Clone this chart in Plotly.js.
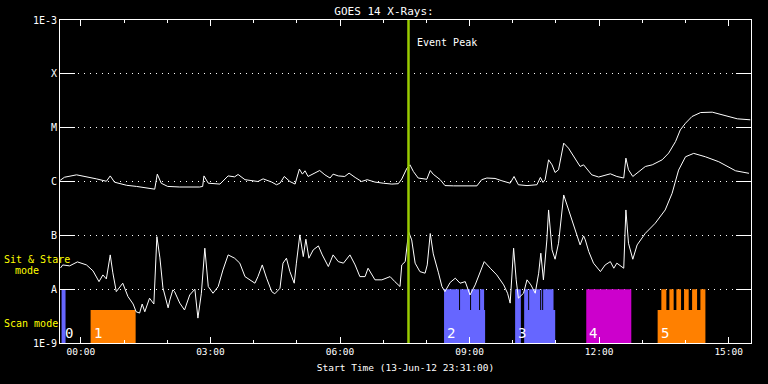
<!DOCTYPE html>
<html>
<head>
<meta charset="utf-8">
<script src="https://cdn.plot.ly/plotly-3.0.1.min.js"></script>
<style>html,body{margin:0;padding:0;background:#000;}#chart{width:768px;height:384px;}</style>
</head>
<body>
<div id="chart"></div>
<script>
// ---- Data (time in hours after 00:00 on 14-Jun-12; flux in W/m^2) ----
const longT = [-0.48,-0.38,-0.10,0.13,0.36,0.59,0.68,0.78,1.06,1.29,1.52,1.71,1.77,1.86,2.01,2.29,2.75,2.82,2.85,2.95,3.22,3.33,3.41,3.56,3.64,3.80,4.10,4.22,4.42,4.53,4.61,4.71,4.84,4.96,5.06,5.13,5.19,5.26,5.42,5.53,5.65,5.77,5.84,5.96,6.11,6.21,6.35,6.50,6.63,6.81,7.00,7.20,7.35,7.43,7.55,7.62,7.70,7.81,8.01,8.09,8.16,8.32,8.43,8.63,9.17,9.28,9.40,9.59,9.75,9.94,10.03,10.13,10.33,10.56,10.64,10.70,10.75,10.83,10.91,10.98,11.06,11.18,11.29,11.45,11.56,11.64,11.83,11.99,12.26,12.41,12.57,12.62,12.68,12.78,12.92,13.07,13.23,13.46,13.61,13.77,13.88,14.00,14.15,14.35,14.62,14.93,15.20,15.50];
const longF = [1.05e-6,1.20e-6,1.33e-6,1.24e-6,1.12e-6,1.01e-6,1.27e-6,0.97e-6,0.85e-6,0.81e-6,0.755e-6,0.72e-6,1.37e-6,0.93e-6,0.81e-6,0.79e-6,0.79e-6,0.81e-6,1.27e-6,0.93e-6,0.895e-6,1.08e-6,1.27e-6,1.22e-6,1.35e-6,1.08e-6,1.0e-6,1.12e-6,0.975e-6,0.87e-6,0.93e-6,1.24e-6,1.0e-6,0.895e-6,1.70e-6,1.37e-6,1.58e-6,1.24e-6,1.43e-6,1.60e-6,1.33e-6,1.16e-6,1.37e-6,1.27e-6,1.24e-6,1.43e-6,1.19e-6,1.0e-6,1.08e-6,0.975e-6,0.93e-6,0.895e-6,0.91e-6,1.11e-6,1.77e-6,2.04e-6,1.53e-6,1.16e-6,1.10e-6,1.60e-6,1.36e-6,1.08e-6,0.84e-6,0.83e-6,0.83e-6,1.08e-6,1.16e-6,1.14e-6,1.03e-6,0.93e-6,1.24e-6,0.87e-6,0.84e-6,0.87e-6,1.19e-6,0.96e-6,1.08e-6,2.53e-6,2.04e-6,1.47e-6,1.65e-6,5.16e-6,4.17e-6,2.60e-6,1.90e-6,2.04e-6,1.33e-6,1.21e-6,1.39e-6,1.24e-6,1.16e-6,2.72e-6,1.65e-6,1.24e-6,1.53e-6,1.90e-6,2.04e-6,2.53e-6,3.37e-6,5.52e-6,9.1e-6,1.21e-5,1.61e-5,1.91e-5,1.94e-5,1.68e-5,1.46e-5,1.40e-5];

const shortT = [-0.47,-0.42,-0.26,-0.08,0.13,0.28,0.42,0.51,0.59,0.68,0.74,0.82,0.97,1.09,1.21,1.28,1.36,1.42,1.48,1.59,1.69,1.76,1.83,1.90,2.02,2.06,2.13,2.17,2.29,2.40,2.52,2.64,2.71,2.79,2.87,2.95,3.06,3.18,3.29,3.41,3.56,3.68,3.80,3.91,4.03,4.10,4.20,4.30,4.42,4.49,4.61,4.68,4.76,4.84,4.94,4.99,5.07,5.15,5.21,5.28,5.38,5.50,5.59,5.73,5.84,5.96,6.08,6.23,6.35,6.46,6.58,6.65,6.81,6.97,7.16,7.27,7.39,7.43,7.51,7.59,7.66,7.74,7.85,7.97,8.02,8.09,8.16,8.28,8.36,8.43,8.55,8.67,8.78,8.90,9.01,9.13,9.24,9.34,9.48,9.63,9.79,9.88,9.94,10.02,10.08,10.13,10.25,10.33,10.42,10.52,10.60,10.65,10.71,10.79,10.83,10.91,10.98,11.06,11.18,11.29,11.41,11.56,11.64,11.68,11.76,11.87,12.03,12.14,12.26,12.34,12.41,12.57,12.62,12.68,12.78,12.88,13.07,13.30,13.53,13.69,13.84,14.00,14.19,14.46,14.77,15.16,15.47];
const shortF = [2.48e-8,2.82e-8,2.71e-8,3.21e-8,2.82e-8,2.19e-8,1.38e-8,1.84e-8,1.55e-8,4.33e-8,2.01e-8,0.90e-8,1.29e-8,0.73e-8,0.53e-8,0.38e-8,0.36e-8,0.53e-8,0.38e-8,0.68e-8,0.53e-8,9.46e-8,3.81e-8,1.06e-8,0.45e-8,0.63e-8,0.97e-8,0.90e-8,0.55e-8,0.41e-8,0.78e-8,1.0e-8,0.29e-8,0.84e-8,5.77e-8,1.12e-8,0.84e-8,1.12e-8,2.28e-8,4.33e-8,3.76e-8,3.04e-8,1.71e-8,1.49e-8,1.29e-8,1.71e-8,2.82e-8,1.60e-8,0.90e-8,0.82e-8,1.04e-8,3.04e-8,3.76e-8,2.12e-8,1.29e-8,3.04e-8,1.02e-7,4.03e-8,8.47e-8,3.76e-8,5.36e-8,6.36e-8,4.33e-8,2.63e-8,4.33e-8,3.25e-8,3.04e-8,4.33e-8,2.82e-8,1.71e-8,1.71e-8,2.45e-8,1.49e-8,1.49e-8,1.71e-8,1.38e-8,1.12e-8,2.82e-8,3.25e-8,1.16e-7,8.22e-8,3.04e-8,2.12e-8,1.98e-8,2.82e-8,1.08e-7,4.52e-8,2.01e-8,1.12e-8,0.90e-8,1.33e-8,1.60e-8,1.29e-8,1.38e-8,0.78e-8,1.20e-8,2.12e-8,3.25e-8,2.45e-8,1.84e-8,1.20e-8,0.84e-8,0.55e-8,5.77e-8,1.49e-8,0.68e-8,0.84e-8,1.49e-8,1.20e-8,0.84e-8,1.98e-8,4.66e-8,1.49e-8,8.22e-8,2.96e-7,5.36e-8,3.60e-8,7.13e-8,5.62e-7,2.96e-7,1.45e-7,6.64e-8,9.75e-8,8.22e-8,4.99e-8,3.04e-8,2.12e-8,2.82e-8,3.25e-8,2.45e-8,3.04e-8,2.45e-8,2.96e-7,7.13e-8,3.60e-8,6.64e-8,1.09e-7,1.68e-7,2.96e-7,6.04e-7,1.63e-6,2.88e-6,3.33e-6,2.88e-6,2.33e-6,1.58e-6,1.42e-6];

// Observation groups (numbered boxes along the bottom)
const groupLabels = ['0','1','2','3','4','5'];
const groupColors = ['#6666ff','#ff8000','#6666ff','#6666ff','#cc00cc','#ff8000'];
const groupStart  = [-0.447,0.225,8.409,10.055,11.702,13.355];

// Individual observations
const obsGroup = [0, 1, 2,2,2,2,2, 3,3,3,3,3,3, 4, 5,5,5,5,5,5,5];
const obsMode  = ['stare','scan','scan','stare','stare','stare','stare','stare','scan','stare','stare','stare','stare','stare','scan','stare','stare','stare','stare','stare','stare'];
const obsStart = [-0.447,0.225,8.409,8.409,8.780,9.035,9.244,10.055,10.264,10.264,10.380,10.658,10.704,11.702,13.355,13.441,13.627,13.789,13.967,14.153,14.345];
const obsEnd   = [-0.355,1.268,9.360,8.757,9.012,9.221,9.337,10.188,10.983,10.357,10.635,10.681,10.944,12.745,14.461,13.557,13.726,13.897,14.074,14.268,14.461];
const modeTop  = {stare: 1e-8, scan: 4.1e-9};
const boxBase  = 1e-9;

const eventPeak = 7.586;

const xTickVals = [0,3,6,9,12,15];
const xTickText = ['00:00','03:00','06:00','09:00','12:00','15:00'];
const xMinorVals = [1,2,4,5,7,8,10,11,13,14];
const yTickVals = [1e-9,1e-8,1e-7,1e-6,1e-5,1e-4,1e-3];
const yTickText = ['1E-9','A','B','C','M','X','1E-3'];

// ---- Build traces ----
const traces = [];
const colorsUsed = [...new Set(groupColors)];
colorsUsed.forEach(col => {
  const xs = [], ys = [];
  obsGroup.forEach((g, i) => {
    if (groupColors[g] !== col) return;
    const top = modeTop[obsMode[i]];
    xs.push(obsStart[i], obsEnd[i], obsEnd[i], obsStart[i], obsStart[i], null);
    ys.push(boxBase, boxBase, top, top, boxBase, null);
  });
  traces.push({x: xs, y: ys, type: 'scatter', mode: 'lines', fill: 'toself',
    fillcolor: col, line: {width: 0, color: col}, hoverinfo: 'skip', showlegend: false});
});
traces.push({x: longT, y: longF, type: 'scatter', mode: 'lines',
  line: {color: '#ffffff', width: 1}, showlegend: false, name: '1-8 Å'});
traces.push({x: shortT, y: shortF, type: 'scatter', mode: 'lines',
  line: {color: '#ffffff', width: 1}, showlegend: false, name: '0.5-4 Å'});

const mono = 'DejaVu Sans Mono, monospace';
const annotations = groupLabels.map((t, i) => ({
  x: groupStart[i], xref: 'x', xanchor: 'left', xshift: 1,
  y: 0.031, yref: 'paper', yanchor: 'middle',
  text: t, showarrow: false, font: {family: mono, size: 14, color: '#ffffff'}
}));
annotations.push({x: eventPeak, xref: 'x', xanchor: 'left', xshift: 7, y: 0.93, yref: 'paper', yanchor: 'middle',
  text: 'Event Peak', showarrow: false, font: {family: mono, size: 10, color: '#ffffff'}});
annotations.push({x: -0.0839, xref: 'paper', xanchor: 'left', y: 0.2597, yref: 'paper', yanchor: 'middle',
  text: 'Sit & Stare', showarrow: false, font: {family: mono, size: 10, color: '#ffff00'}});
annotations.push({x: -0.068, xref: 'paper', xanchor: 'left', y: 0.2241, yref: 'paper', yanchor: 'middle',
  text: 'mode', showarrow: false, font: {family: mono, size: 10, color: '#ffff00'}});
annotations.push({x: -0.0839, xref: 'paper', xanchor: 'left', y: 0.0603, yref: 'paper', yanchor: 'middle',
  text: 'Scan mode', showarrow: false, font: {family: mono, size: 10, color: '#ffff00'}});

const layout = {
  width: 768, height: 384,
  paper_bgcolor: '#000000', plot_bgcolor: '#000000',
  margin: {l: 60, r: 17, t: 20, b: 41},
  title: {text: 'GOES 14 X-Rays:', x: 0.5, xref: 'container', xanchor: 'center', y: 0.972, yanchor: 'middle',
    font: {family: mono, size: 11, color: '#ffffff'}},
  showlegend: false,
  xaxis: {
    range: [-0.4833, 15.5167], tickmode: 'array', tickvals: xTickVals, ticktext: xTickText,
    ticks: 'inside', ticklen: 6, tickwidth: 1, tickcolor: '#ffffff',
    minor: {tickmode: 'array', tickvals: xMinorVals, ticks: 'inside', ticklen: 3, tickcolor: '#ffffff', showgrid: false},
    showline: true, linecolor: '#ffffff', linewidth: 1, mirror: 'ticks',
    showgrid: false, zeroline: false,
    tickfont: {family: mono, size: 9.5, color: '#ffffff'},
    title: {text: 'Start Time (13-Jun-12 23:31:00)', standoff: 7, font: {family: mono, size: 9.5, color: '#ffffff'}}
  },
  yaxis: {
    type: 'log', range: [-9, -3], tickmode: 'array', tickvals: yTickVals, ticktext: yTickText,
    ticks: 'inside', ticklen: 15, tickwidth: 1, tickcolor: '#ffffff',
    showline: true, linecolor: '#ffffff', linewidth: 1, mirror: 'ticks',
    showgrid: true, gridcolor: '#ffffff', gridwidth: 1, griddash: '1px,5px', zeroline: false,
    tickfont: {family: mono, size: 10, color: '#ffffff'}
  },
  shapes: [{type: 'line', xref: 'x', yref: 'paper', x0: eventPeak, x1: eventPeak, y0: 0, y1: 1,
    line: {color: '#99cc00', width: 2.5}}],
  annotations: annotations
};

Plotly.newPlot('chart', traces, layout, {displayModeBar: false, staticPlot: true});
</script>
</body>
</html>
